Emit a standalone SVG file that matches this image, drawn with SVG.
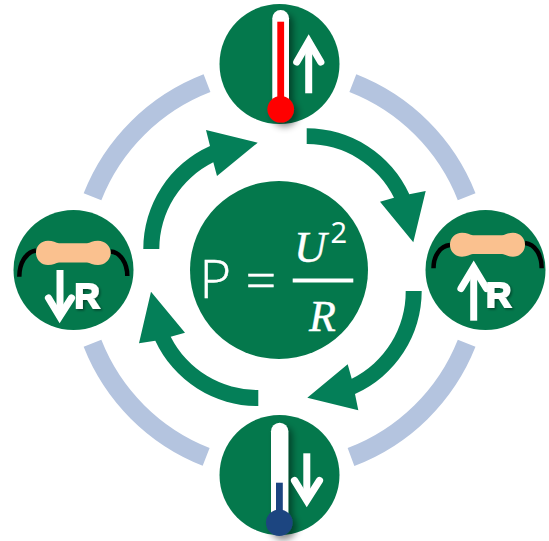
<svg xmlns="http://www.w3.org/2000/svg" width="549" height="541" viewBox="0 0 549 541">
<defs>
<filter id="soft" x="-100%" y="-20%" width="300%" height="140%"><feDropShadow dx="4" dy="4" stdDeviation="3.5" flood-color="#000" flood-opacity="0.45"/></filter>
<filter id="rsh" x="-30%" y="-30%" width="160%" height="160%"><feDropShadow dx="1.5" dy="1.5" stdDeviation="1.2" flood-color="#000" flood-opacity="0.4"/></filter>
</defs>
<style>
.disc{fill:#04784c}
.link{fill:none;stroke:#b4c4df;stroke-width:19}
.flow{fill:#047f58}
.up{fill:none;stroke:#fff;stroke-width:7.2;stroke-linejoin:miter;stroke-linecap:round}
.shaft{fill:none;stroke:#fff;stroke-width:7}
.bone{fill:#fac18f}
.wire{fill:none;stroke:#000;stroke-width:4.5}
.rlabel{font-family:"Liberation Sans",Arial,sans-serif;font-weight:700;font-size:35px;fill:#fff;stroke:#fff;stroke-width:2px}
.math{font-family:"Liberation Serif","Times New Roman",serif;fill:#fff;stroke:#fff;stroke-width:.4px}
.light{font-family:"Open Sans","Noto Sans",sans-serif;font-weight:300;fill:#fff;stroke:#fff;stroke-width:.5px}
</style>
<g id="connectors">
<path class="link" d="M352.85 83.15A200.7 200.7 0 0 1 466.65 196.65"/>
<path class="link" d="M351 457A200.7 200.7 0 0 0 466.65 343.3"/>
<path class="link" d="M92.5 343.3A200.7 200.7 0 0 0 206.15 456.85"/>
<path class="link" d="M92.5 196.7A200.7 200.7 0 0 1 207 83.15"/>
<path class="flow" d="M306.7 128.3A112.7 112.7 0 0 1 409.3 194.3L425.7 191L413.3 242.3L380 201.7L394 197.7A97 97 0 0 0 306.7 144Z"/>
<path class="flow" d="M421.7 291A112.7 112.7 0 0 1 355 394L358.3 410.3L307.3 397.7L347.7 364.3L351.7 378.7A97 97 0 0 0 405.7 291Z"/>
<path class="flow" d="M258.3 406A112.7 112.7 0 0 1 155.3 340.7L139 343.3L151 291.7L185 332.7L170.7 336.7A97 97 0 0 0 258.3 390Z"/>
<path class="flow" d="M143.3 249A112.7 112.7 0 0 1 210 146L206 130L257.7 142.7L217 176L213.3 162.3A97 97 0 0 0 159.3 249Z"/>
</g>
<g id="node-centre">
<circle class="disc" cx="279" cy="270" r="89"/>
<text class="light" x="199.5" y="297.7" font-size="54">P</text>
<text class="light" x="245.5" y="299" font-size="54">=</text>
<text class="math" x="294" y="261.7" font-size="45" font-style="italic">U</text>
<text x="330.5" y="243.3" font-size="29" fill="#fff" font-family="'Noto Sans',sans-serif">2</text>
<rect x="292.7" y="278.5" width="60.6" height="4" fill="#fff"/>
<text class="math" x="309" y="330.7" font-size="44" font-style="italic">R</text>
</g>
<g id="node-temp-up">
<circle class="disc" cx="279.5" cy="64" r="60"/>
<g filter="url(#soft)">
<rect x="272.3" y="10" width="16.7" height="100" rx="8.3" fill="#fff"/>
<rect x="277.3" y="21.7" width="6.8" height="80" fill="#f00"/>
<circle cx="280.7" cy="109.3" r="13.3" fill="#f00"/>
</g>
<path class="shaft" d="M308.7 93.3V45"/>
<path class="up" d="M296.8 62L308.7 41.5L320.8 62"/>
</g>
<g id="node-resistance-up">
<circle class="disc" cx="485.5" cy="270" r="60"/>
<path class="wire" d="M450 245C440 246 433.5 256 433.5 268.3"/>
<path class="wire" d="M525 243C535 244 541.7 255 541.7 268.3"/>
<path class="bone" d="M462 232.7C467 232.7 470 234.8 473 235.3H502C505 234.8 508 232.7 513 232.7C520 232.7 525 238 525 244.7C525 251.3 520 256.7 513 256.7C508 256.7 505 254.6 502 254.1H473C470 254.6 467 256.7 462 256.7C455 256.7 450 251.3 450 244.7C450 238 455 232.7 462 232.7Z"/>
<path class="shaft" d="M473.7 320.7V272"/>
<path class="up" d="M461 288.5L473.7 267.5L486.5 288.5"/>
<text class="rlabel" x="486" y="306.5" filter="url(#rsh)">R</text>
</g>
<g id="node-temp-down">
<circle class="disc" cx="279.5" cy="475" r="60"/>
<g filter="url(#soft)">
<rect x="271" y="422.7" width="17.3" height="100" rx="8.6" fill="#fff"/>
<rect x="276" y="482.7" width="6.8" height="35" fill="#1f4480"/>
<circle cx="279.3" cy="522.7" r="13.3" fill="#1f4480"/>
</g>
<path class="shaft" d="M306.8 453.3V498"/>
<path class="up" d="M294.5 480.5L306.8 500.5L319.5 480.5"/>
</g>
<g id="node-resistance-down">
<circle class="disc" cx="73.5" cy="270" r="60"/>
<path class="wire" d="M36 250.5C26 252 19.3 263 19.3 276.7"/>
<path class="wire" d="M110.7 251.5C120 252 127.3 263 127.3 276"/>
<path class="bone" d="M48 240.7C53 240.7 56 242.8 59 243.3H87C90 242.8 93 240.7 98 240.7C105 240.7 110.7 246 110.7 252.8C110.7 259.6 105 265 98 265C93 265 90 262.9 87 262.4H59C56 262.9 53 265 48 265C41 265 36 259.6 36 252.8C36 246 41 240.7 48 240.7Z"/>
<path class="shaft" d="M60 270V314"/>
<path class="up" d="M48.5 298L59.7 316.5L71.5 298"/>
<text class="rlabel" x="74.5" y="308" filter="url(#rsh)">R</text>
</g>
</svg>
